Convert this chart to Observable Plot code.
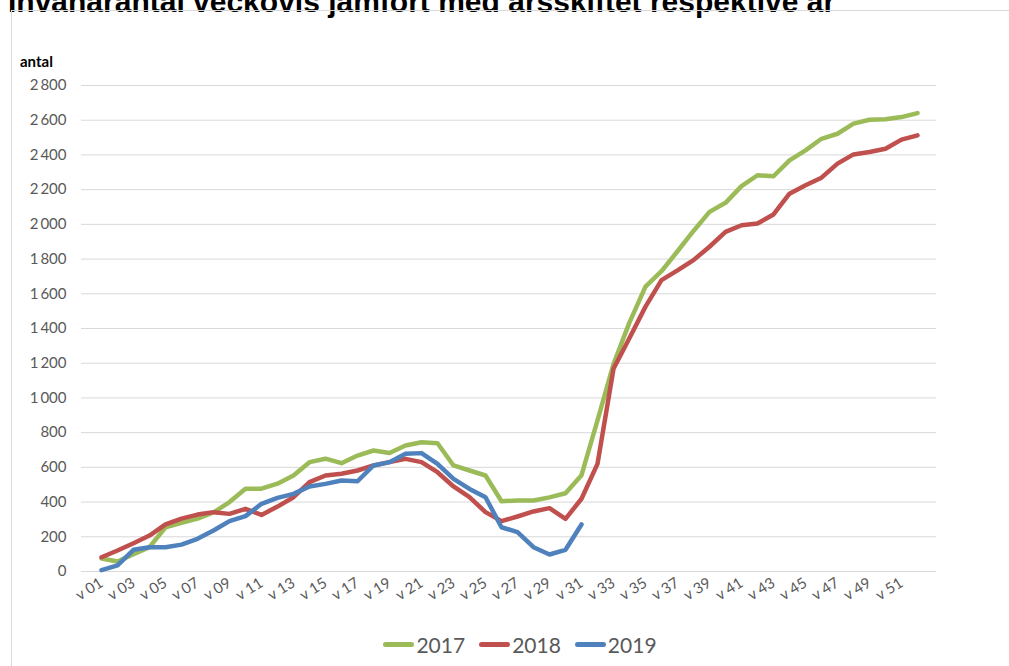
<!DOCTYPE html>
<html>
<head>
<meta charset="utf-8">
<script src="https://cdn.jsdelivr.net/npm/d3@7"></script>
<script src="https://cdn.jsdelivr.net/npm/@observablehq/plot@0.6"></script>
<style>
  html, body { margin: 0; padding: 0; background: #fff; overflow: hidden; }
  #page { position: relative; width: 1009px; height: 666px; overflow: hidden; }
  #title { position: absolute; left: 8px; top: -13px; font: bold 30px "Liberation Sans", Arial, sans-serif; line-height: 30px; color: #000; white-space: nowrap; }
  #frame { position: absolute; left: 11px; top: 10px; width: 1010px; height: 670px; border: 1px solid #d9d9d9; box-sizing: border-box; }
  #chart { position: absolute; left: 0; top: 0; }
  #ylabel { position: absolute; left: 20px; top: 52px; font: bold 15px Lato, sans-serif; color: #000; }
  #legend { position: absolute; left: 0; width: 1040px; top: 632px; display: flex; justify-content: center; gap: 14px; font: 21px Lato, sans-serif; color: #595959; }
  #legend .item { display: flex; align-items: center; }
  #legend .sw { display: inline-block; width: 31px; height: 5px; border-radius: 3px; margin-right: 2px; }
</style>
</head>
<body>
<div id="page">
  <div id="title">Invånarantal veckovis jämfört med årsskiftet respektive år</div>
  <div id="frame"></div>
  <div id="chart"></div>
  <div id="ylabel">antal</div>
  <div id="legend"></div>
</div>
<script>
const weeks = ["v 01","v 02","v 03","v 04","v 05","v 06","v 07","v 08","v 09","v 10",
  "v 11","v 12","v 13","v 14","v 15","v 16","v 17","v 18","v 19","v 20",
  "v 21","v 22","v 23","v 24","v 25","v 26","v 27","v 28","v 29","v 30",
  "v 31","v 32","v 33","v 34","v 35","v 36","v 37","v 38","v 39","v 40",
  "v 41","v 42","v 43","v 44","v 45","v 46","v 47","v 48","v 49","v 50",
  "v 51","v 52"];
const seriesNames = ["2017", "2018", "2019"];
const seriesColors = ["#9BBB59", "#C0504D", "#4F81BD"];
const zeroColor = "#8064A2";
const yTicks = [0, 200, 400, 600, 800, 1000, 1200, 1400, 1600, 1800, 2000, 2200, 2400, 2600, 2800];

const v2017 = [75, 58, 100, 140, 255, 280, 305, 340, 400, 477,
  477, 506, 553, 630, 650, 624, 668, 697, 683, 726,
  745, 739, 611, 582, 553, 405, 409, 409, 427, 451,
  555, 870, 1195, 1435, 1641, 1730, 1845, 1962, 2072, 2124,
  2220, 2283, 2277, 2369, 2426, 2493, 2522, 2580, 2603, 2605,
  2618, 2641];
const v2018 = [82, 121, 163, 207, 271, 305, 328, 342, 332, 361,
  326, 374, 428, 515, 553, 563, 582, 611, 630, 649,
  630, 572, 490, 428, 342, 290, 317, 346, 365, 303,
  419, 620, 1168, 1345, 1526, 1679, 1735, 1794, 1871, 1957,
  1995, 2005, 2057, 2177, 2225, 2269, 2350, 2403, 2417, 2436,
  2488, 2513];
const v2019 = [8, 35, 125, 140, 140, 155, 188, 236, 290, 319,
  390, 424, 447, 490, 505, 524, 520, 611, 630, 678,
  682, 620, 534, 476, 428, 255, 227, 140, 98, 125,
  271];

const allValues = [v2017, v2018, v2019];
const data = [];
seriesNames.forEach((s, si) => {
  allValues[si].forEach((v, i) => data.push({series: s, week: weeks[i], value: v}));
});

const fmt = d => d3.format(",")(d).replace(",", "\u2009");

const chart = Plot.plot({
  width: 1009,
  height: 620,
  marginLeft: 81,
  marginRight: 73,
  marginTop: 85,
  marginBottom: 49,
  style: {fontFamily: "Lato, sans-serif", fontSize: "14px", color: "#595959", background: "transparent"},
  x: {type: "point", domain: weeks, padding: 0.5, axis: null, label: null},
  y: {domain: [0, 2800], axis: null, label: null},
  color: {domain: seriesNames, range: seriesColors},
  marks: [
    Plot.gridY(yTicks, {stroke: "#d9d9d9", strokeOpacity: 1, strokeWidth: 1}),
    Plot.axisY(yTicks, {tickSize: 0, tickPadding: 15, tickFormat: fmt, fontSize: 15, fill: "#595959", label: null}),
    Plot.axisX(weeks.filter((d, i) => i % 2 === 0), {tickSize: 0, tickPadding: 10, tickRotate: -32, fontSize: 15, fill: "#595959", label: null}),
    Plot.ruleY([0], {x1: weeks[0], x2: weeks[weeks.length - 1], stroke: zeroColor, strokeWidth: 2}),
    Plot.line(data, {x: "week", y: "value", z: "series", stroke: "series", strokeWidth: 4.5, strokeLinejoin: "round", strokeLinecap: "round"})
  ]
});
document.getElementById("chart").appendChild(chart);

const legend = document.getElementById("legend");
seriesNames.forEach((s, i) => {
  const item = document.createElement("div");
  item.className = "item";
  const sw = document.createElement("span");
  sw.className = "sw";
  sw.style.background = seriesColors[i];
  const t = document.createElement("span");
  t.textContent = s;
  item.appendChild(sw);
  item.appendChild(t);
  legend.appendChild(item);
});
</script>
</body>
</html>
